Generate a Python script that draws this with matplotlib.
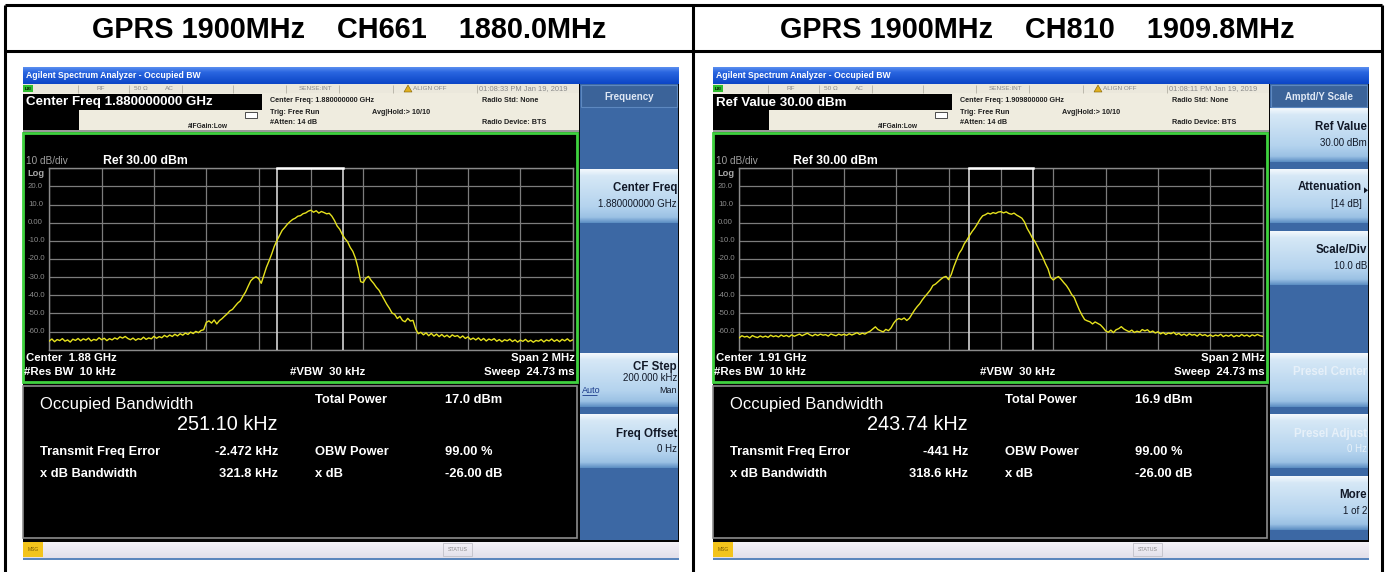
import numpy as np
import matplotlib
matplotlib.use("Agg")
import matplotlib.pyplot as plt
from matplotlib.patches import Rectangle, Polygon
from matplotlib.colors import to_rgb

W, H = 1388, 572
FONT = "Liberation Sans"
plt.rcParams['font.family'] = [FONT, 'DejaVu Sans']

# ---------------- data ----------------
titles = ["GPRS 1900MHz    CH661    1880.0MHz", "GPRS 1900MHz    CH810    1909.8MHz"]
active_function = ["Center Freq 1.880000000 GHz", "Ref Value 30.00 dBm"]
center_freq_full = ["1.880000000 GHz", "1.909800000 GHz"]
center_freq_short = ["1.88 GHz", "1.91 GHz"]
timestamps = ["01:08:33 PM Jan 19, 2019", "01:08:11 PM Jan 19, 2019"]
occupied_bw_khz = [251.10, 243.74]
freq_error_khz = [-2.472, -0.441]
freq_error_text = ["-2.472 kHz", "-441 Hz"]
xdb_bw_text = ["321.8 kHz", "318.6 kHz"]
total_power_text = ["17.0 dBm", "16.9 dBm"]
obw_power_text = "99.00 %"
xdb_text = "-26.00 dB"
y_tick_labels = ["20.0", "10.0", "0.00", "-10.0", "-20.0", "-30.0", "-40.0", "-50.0", "-60.0"]
ref_level_dbm = 30
db_per_div = 10
span_mhz = 2.0

# trace frequency offsets (MHz from centre), 10 kHz steps
freq_offset_mhz = np.linspace(-1.0, 1.0, 201)

trace_ch661 = [
    -65.2, -64.1, -65.6, -64.4, -65.0, -63.9, -65.3, -64.6, -65.8, -64.2,
    -64.9, -63.8, -65.1, -64.0, -64.7, -63.6, -65.2, -64.3, -64.8, -63.4,
    -64.5, -63.7, -65.0, -63.9, -64.6, -63.5, -64.2, -62.9, -63.6, -62.7,
    -63.8, -64.5, -63.6, -64.8, -63.9, -64.4, -63.1, -64.3, -63.5, -64.0,
    -62.6, -63.7, -62.8, -63.4, -62.1, -63.0, -61.9, -62.7, -61.5, -62.4,
    -61.2, -62.0, -60.8, -61.6, -60.3, -61.1, -59.9, -60.6, -59.4, -59.0,
    -55.0, -54.1, -55.3, -53.6, -55.8, -54.0, -52.9, -51.5, -50.2, -48.6,
    -47.8, -46.0, -44.3, -43.1, -40.5, -38.2, -35.0, -32.0, -30.6, -29.8,
    -30.8, -33.4, -29.0, -24.5, -21.0, -17.2, -13.0, -9.8, -7.0, -4.2,
    -2.6, -0.8, 0.6, 1.8, 2.5, 3.6, 3.9, 5.0, 5.4, 6.4,
    6.9, 5.8, 6.6, 5.3, 6.2, 5.6, 4.9, 5.2, 3.6, 1.2,
    -1.8, -3.6, -6.5, -8.8, -10.5, -13.6, -15.8, -19.5, -25.0, -32.5,
    -33.0, -30.5, -29.6, -31.8, -33.5, -35.6, -37.2, -39.8, -42.5, -45.0,
    -47.2, -49.8, -50.5, -52.8, -51.6, -53.9, -54.6, -52.7, -54.2, -53.8,
    -58.5, -61.2, -60.4, -61.8, -60.7, -62.3, -61.0, -62.5, -61.4, -62.8,
    -61.6, -62.9, -62.0, -63.2, -61.8, -62.7, -62.2, -63.5, -62.4, -63.8,
    -62.9, -64.4, -63.6, -64.6, -63.5, -64.9, -63.8, -65.2, -64.1, -64.8,
    -63.9, -65.3, -64.4, -65.6, -64.5, -65.1, -64.2, -65.5, -64.6, -65.8,
    -64.7, -65.4, -64.3, -65.6, -64.8, -65.9, -64.9, -65.3, -64.4, -65.7,
    -64.6, -65.2, -64.1, -65.4, -64.5, -65.6, -64.3, -65.1, -64.0, -65.3,
    -64.6]

trace_ch810 = [
    -63.4, -62.3, -63.0, -62.6, -63.5, -62.2, -62.9, -63.3, -62.4, -63.1,
    -62.5, -63.2, -62.0, -62.8, -62.3, -63.0, -61.9, -62.7, -62.1, -62.9,
    -61.8, -62.6, -62.0, -61.4, -62.3, -61.6, -60.9, -61.8, -62.4, -61.5,
    -62.2, -61.4, -62.0, -61.7, -62.5, -61.3, -61.9, -62.3, -61.4, -62.0,
    -61.5, -62.1, -61.2, -61.9, -61.3, -60.6, -61.6, -60.9, -61.4, -60.5,
    -59.8, -58.6, -57.4, -58.9, -59.6, -60.2, -58.8, -59.5, -58.0, -55.4,
    -53.6, -52.8, -53.4, -52.5, -53.9, -52.7, -50.4, -48.1, -46.2, -44.6,
    -42.4, -40.6, -38.9, -37.1, -34.6, -33.8, -32.5, -31.2, -30.1, -29.6,
    -31.4, -28.6, -24.2, -20.5, -16.9, -14.8, -11.6, -9.5, -7.0, -4.8,
    -2.9, -0.6, 1.9, 3.8, 4.4, 5.3, 4.8, 5.6, 5.1, 5.9,
    6.1, 5.4, 6.0, 5.1, 4.7, 5.3, 4.2, 3.4, 2.5, 0.4,
    -3.1, -5.6, -8.4, -10.4, -13.2, -16.3, -19.2, -22.6, -25.5, -30.2,
    -31.6, -30.4, -29.7, -31.2, -33.0, -34.6, -36.8, -39.5, -41.2, -44.8,
    -48.2, -51.0, -53.4, -54.1, -54.6, -55.8, -54.7, -55.5, -56.3, -57.8,
    -59.6, -60.4, -59.2, -60.6, -59.0, -58.4, -57.3, -58.6, -59.4, -60.1,
    -59.2, -60.5, -59.8, -60.3, -58.9, -59.6, -59.0, -60.4, -59.7, -60.8,
    -60.1, -61.3, -60.5, -61.6, -60.8, -61.2, -60.4, -61.7, -61.0, -62.1,
    -61.4, -62.3, -61.2, -62.0, -61.6, -62.5, -61.3, -62.2, -61.7, -62.6,
    -61.8, -62.7, -61.9, -62.4, -61.5, -62.8, -62.0, -62.6, -61.7, -62.9,
    -62.1, -62.7, -61.6, -62.5, -61.9, -62.8, -61.8, -62.4, -61.6, -62.3,
    -62.6]
traces = [trace_ch661, trace_ch810]

softkey_titles = ["Frequency", "Amptd/Y Scale"]
# (slot, line1, line2, greyed)
softkeys = [
    [(2, "Center Freq", "1.880000000 GHz", False),
     (5, "CF Step", "200.000 kHz", False),
     (6, "Freq Offset", "0 Hz", False)],
    [(1, "Ref Value", "30.00 dBm", False),
     (2, "Attenuation", "[14 dB]", False),
     (3, "Scale/Div", "10.0 dB", False),
     (5, "Presel Center", "", True),
     (6, "Presel Adjust", "0 Hz", True),
     (7, "More", "1 of 2", False)],
]

# ---------------- figure ----------------
fig = plt.figure(figsize=(W / 100, H / 100), dpi=100)
fig.patch.set_facecolor("white")
cv = fig.add_axes([0, 0, 1, 1])
cv.set_zorder(0)


def rect(x0, y0, x1, y1, fc, ec="none", lw=0, z=1):
    cv.add_patch(Rectangle((x0, y0), x1 - x0, y1 - y0, facecolor=fc,
                           edgecolor=ec, linewidth=lw, zorder=z))


def grad(x0, y0, x1, y1, stops, z=1):
    t = np.linspace(0, 1, 64)
    pos = [s[0] for s in stops]
    cols = np.array([to_rgb(s[1]) for s in stops])
    img = np.stack([np.interp(t, pos, cols[:, k]) for k in range(3)], axis=1)
    img = img[:, None, :]
    cv.imshow(img, extent=(x0, x1, y1, y0), aspect="auto", origin="upper",
              zorder=z, interpolation="bilinear")


def txt(x, y, s, size, color="black", weight="normal", ha="left", va="center", z=5):
    cv.text(x, y, s, fontsize=size, color=color, fontweight=weight, ha=ha,
            va=va, zorder=z, family=[FONT, "DejaVu Sans"])


def line(xs, ys, color, lw, z=3):
    cv.plot(xs, ys, color=color, linewidth=lw, zorder=z, solid_capstyle="butt")


# table
line([5, 5], [5, 572], "black", 2.2, z=10)
line([1382, 1382], [5, 572], "black", 2.2, z=10)
line([5, 1382], [5, 5], "black", 2.2, z=10)
line([5, 1382], [51, 51], "black", 2.2, z=10)
line([693, 693], [5, 572], "black", 2.2, z=10)
for i, cx in enumerate([349, 1037.5]):
    txt(cx, 30, titles[i], 20.8, "black", "bold", ha="center")

GRID_X0, GRID_X1 = 49.3, 572.6
GRID_Y0, GRID_Y1 = 168.3, 349.7

KEYC = "#111827"


def softkey(dx, slot, l1, l2, grey):
    top = 108 + (slot - 1) * 61.3
    bot = top + 54
    grad(580 + dx, top, 678 + dx, bot,
         [(0, "#f4f9fd"), (0.12, "#d6e8f6"), (0.7, "#b4d3ee"), (0.9, "#9bc1e4"), (1.0, "#5d8fc4")], z=2)
    col = "#e6f0f9" if grey else KEYC
    if l1 == "CF Step":
        txt(677 + dx, top + 14, l1, 8.3, col, "bold", ha="right")
        txt(677 + dx, top + 25, l2, 7, col, ha="right")
        txt(582 + dx, top + 37, "Auto", 6.5, "#1a3a8a", ha="left")
        line([582 + dx, 597 + dx], [top + 41.5, top + 41.5], "#1a3a8a", 0.6, z=6)
        txt(677 + dx, top + 37, "Man", 6.5, col, ha="right")
        return
    if l1 == "Attenuation":
        txt(672 + dx, top + 18, l1, 8.3, col, "bold", ha="right")
        cv.add_patch(Polygon([[674 + dx, top + 18], [678 + dx, top + 21], [674 + dx, top + 24]],
                             closed=True, facecolor=KEYC, zorder=6))
        txt(672 + dx, top + 35, l2, 7, col, ha="right")
        return
    txt(677 + dx, top + 19, l1, 8.3, col, "bold", ha="right")
    if l2:
        txt(677 + dx, top + 35, l2, 7, col, ha="right")


for i in range(2):
    dx = 0 if i == 0 else 690
    # whole screen background
    rect(23 + dx, 84, 679 + dx, 542, "#050505", z=1)
    # title bar
    grad(23 + dx, 67, 679 + dx, 84, [(0, "#5b8ff0"), (0.3, "#2a66e0"), (1, "#0b45c6")], z=2)
    txt(26 + dx, 75.5, "Agilent Spectrum Analyzer - Occupied BW", 6.2, "white", "bold")
    # status row
    rect(23 + dx, 84, 579 + dx, 93, "#ebe8dc", z=2)
    rect(23 + dx, 85, 33 + dx, 92, "#2fbf2f", z=3)
    txt(28 + dx, 88.5, "LXI", 3.2, "black", "bold", ha="center")
    for sx in [78, 129, 182, 233, 286, 339, 393, 477]:
        line([sx + dx, sx + dx], [84.5, 92.5], "#b4b0a4", 0.6, z=3)
    for sx, s in [(97, "RF"), (134, "50 Ω"), (165, "AC"), (299, "SENSE:INT"),
                  (413, "ALIGN OFF")]:
        txt(sx + dx, 88.7, s, 4.6, "#8a8a8a")
    txt(479 + dx, 88.7, timestamps[i], 5.4, "#8a8a8a")
    cv.add_patch(Polygon([[404 + dx, 92], [408 + dx, 85], [412 + dx, 92]], closed=True,
                         facecolor="#e0b020", edgecolor="#806000", lw=0.4, zorder=4))
    # header info area
    rect(23 + dx, 93, 579 + dx, 131, "#efecdf", z=2)
    rect(23 + dx, 94, 262 + dx, 110, "black", z=3)
    txt(26 + dx, 102.5, active_function[i], 9.6, "white", "bold")
    rect(23 + dx, 110, 79 + dx, 130, "black", z=3)
    rect(23 + dx, 130, 579 + dx, 132, "#9a9a9a", z=3)
    txt(188 + dx, 126, "#IFGain:Low", 4.8, "#202020", "bold")
    cv.add_patch(Rectangle((245 + dx, 112), 12, 6, facecolor="white", edgecolor="#303030",
                           lw=0.6, zorder=4))
    txt(270 + dx, 101, "Center Freq: " + center_freq_full[i], 5.2, "#202020", "bold")
    txt(270 + dx, 112, "Trig: Free Run", 5.2, "#202020", "bold")
    txt(372 + dx, 112, "Avg|Hold:> 10/10", 5.2, "#202020", "bold")
    txt(270 + dx, 123, "#Atten: 14 dB", 5.2, "#202020", "bold")
    txt(482 + dx, 101, "Radio Std: None", 5.2, "#202020", "bold")
    txt(482 + dx, 123, "Radio Device: BTS", 5.2, "#202020", "bold")
    # soft key panel
    rect(580 + dx, 84, 678 + dx, 540, "#3c68a4", z=2)
    rect(581 + dx, 85, 677 + dx, 107, "#3b6399", ec="#5d88c0", lw=0.8, z=3)
    txt(629 + dx, 97, softkey_titles[i], 7, "#dfe8f4", "bold", ha="center")
    for slot, l1, l2, grey in softkeys[i]:
        softkey(dx, slot, l1, l2, grey)
    # graph box
    rect(23 + dx, 133, 577 + dx, 382, "black", ec="#3fd23f", lw=2.0, z=3)
    txt(26 + dx, 161, "10 dB/div", 7.2, "#a0a0a0")
    txt(103 + dx, 161, "Ref %.2f dBm" % ref_level_dbm, 8.8, "white", "bold")
    txt(27 + dx, 173.5, "Log", 6.7, "#a8a8a8", "bold")
    for k, lab in enumerate(y_tick_labels):
        yy = GRID_Y0 + (k + 1) * (GRID_Y1 - GRID_Y0) / 10
        txt(28 + dx, yy, lab, 5.6, "#8c8c8c")
    txt(26 + dx, 358, "Center  " + center_freq_short[i], 8.2, "white", "bold")
    txt(24 + dx, 372, "#Res BW  10 kHz", 8.2, "white", "bold")
    txt(290 + dx, 372, "#VBW  30 kHz", 8.2, "white", "bold")
    txt(575 + dx, 358, "Span 2 MHz", 8.2, "white", "bold", ha="right")
    txt(575 + dx, 372, "Sweep  24.73 ms", 8.2, "white", "bold", ha="right")
    # result panel
    rect(23 + dx, 386, 577 + dx, 538, "black", ec="#8c8c8c", lw=1.2, z=3)
    txt(40 + dx, 404, "Occupied Bandwidth", 12, "white")
    txt(278 + dx, 425, "%.2f kHz" % occupied_bw_khz[i], 14.3, "white", ha="right")
    BS = 9.3
    txt(315 + dx, 400, "Total Power", BS, "white", "bold")
    txt(445 + dx, 400, total_power_text[i], BS, "white", "bold")
    txt(40 + dx, 452, "Transmit Freq Error", BS, "white", "bold")
    txt(278 + dx, 452, freq_error_text[i], BS, "white", "bold", ha="right")
    txt(315 + dx, 452, "OBW Power", BS, "white", "bold")
    txt(445 + dx, 452, obw_power_text, BS, "white", "bold")
    txt(40 + dx, 474, "x dB Bandwidth", BS, "white", "bold")
    txt(278 + dx, 474, xdb_bw_text[i], BS, "white", "bold", ha="right")
    txt(315 + dx, 474, "x dB", BS, "white", "bold")
    txt(445 + dx, 474, xdb_text, BS, "white", "bold")
    # status bar
    grad(23 + dx, 542, 679 + dx, 558, [(0, "#f4f2f8"), (1, "#e2e0ea")], z=2)
    rect(23 + dx, 558, 679 + dx, 560, "#5b86bc", z=3)
    rect(23 + dx, 542, 43 + dx, 557, "#f3c41c", z=3)
    txt(33 + dx, 549.5, "MSG", 3.6, "#7a5a00", ha="center")
    rect(443 + dx, 543, 472 + dx, 556, "none", ec="#c0c0c8", lw=0.6, z=3)
    txt(457.5 + dx, 549.5, "STATUS", 3.8, "#8a8a8a", ha="center")

    # spectrum axes
    x0, x1 = GRID_X0 + dx, GRID_X1 + dx
    ax = fig.add_axes([x0 / W, 1 - GRID_Y1 / H, (x1 - x0) / W, (GRID_Y1 - GRID_Y0) / H])
    ax.set_zorder(5)
    ax.set_facecolor("black")
    ax.set_xlim(-span_mhz / 2, span_mhz / 2)
    ax.set_ylim(ref_level_dbm - 10 * db_per_div, ref_level_dbm)
    ax.set_xticks(np.linspace(-span_mhz / 2, span_mhz / 2, 11))
    ax.set_yticks(np.arange(ref_level_dbm - 10 * db_per_div, ref_level_dbm + 1, db_per_div))
    ax.tick_params(length=0, labelbottom=False, labelleft=False)
    ax.grid(True, color="#7c7c7c", linewidth=0.9)
    for sp in ax.spines.values():
        sp.set_color("#8a8a8a")
        sp.set_linewidth(1.0)
    ax.plot(freq_offset_mhz, traces[i], color="#e6e21e", linewidth=1.0, zorder=4)
    lo = freq_error_khz[i] / 1000 - occupied_bw_khz[i] / 2000
    hi = freq_error_khz[i] / 1000 + occupied_bw_khz[i] / 2000
    ax.plot([lo, lo], [ref_level_dbm - 100, ref_level_dbm], color="#d4d4d4", lw=1.2, zorder=3)
    ax.plot([hi, hi], [ref_level_dbm - 100, ref_level_dbm], color="#d4d4d4", lw=1.2, zorder=3)
    ax.plot([lo, hi], [ref_level_dbm, ref_level_dbm], color="white", lw=1.8, zorder=3,
            clip_on=False)

cv.set_xlim(0, W)
cv.set_ylim(H, 0)
cv.axis("off")
fig.savefig("out.png", dpi=100, facecolor="white")
